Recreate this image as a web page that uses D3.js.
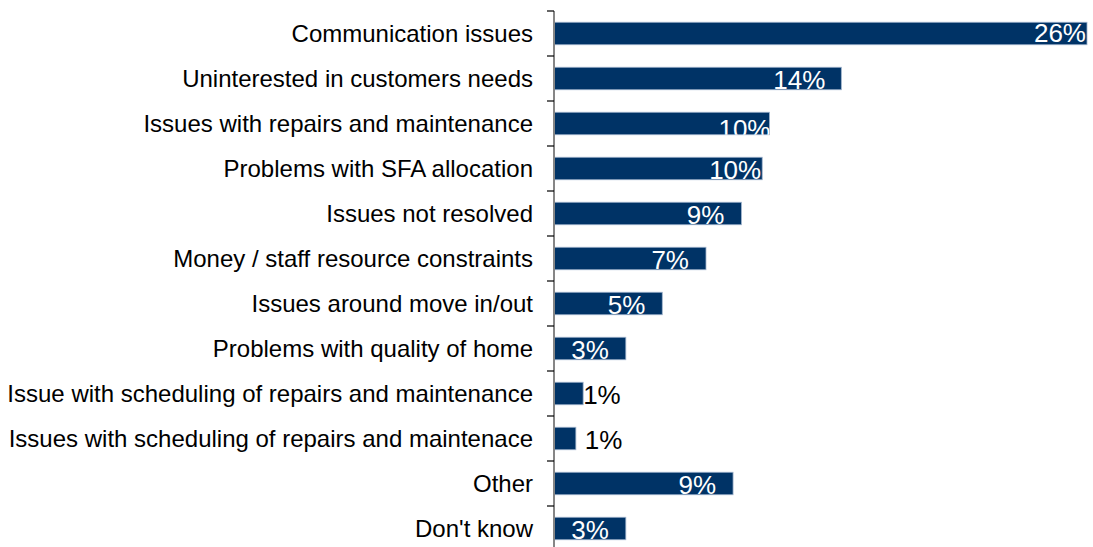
<!DOCTYPE html>
<html>
<head>
<meta charset="utf-8">
<script src="https://cdn.jsdelivr.net/npm/d3@7"></script>
<style>
  html, body { margin: 0; padding: 0; background: #fff; }
  svg { display: block; }
  text { font-family: "Liberation Sans", Arial, sans-serif; }
</style>
</head>
<body>
<svg id="chart" width="1093" height="547"></svg>
<script>
// Reasons given (share of respondents, %)
const categories = [
  "Communication issues",
  "Uninterested in customers needs",
  "Issues with repairs and maintenance",
  "Problems with SFA allocation",
  "Issues not resolved",
  "Money / staff resource constraints",
  "Issues around move in/out",
  "Problems with quality of home",
  "Issue with scheduling of repairs and maintenance",
  "Issues with scheduling of repairs and maintenace",
  "Other",
  "Don't know"
];
const values = [25.6, 13.8, 10.35, 10.0, 9.0, 7.3, 5.2, 3.45, 1.4, 1.05, 8.6, 3.45];

// Per-label placement tweaks (dx from bar end, dy from default baseline)
const labelDx = [-1, -16, 1, -1, -17, -17, -17, -17, 0, 9, -17, -17];
const labelDy = [-2, 0, 4, 0, 0, 0, 0, 0, 0, 0, 0, 0];

const svg = d3.select("#chart");
const axisX = 554;

const x = d3.scaleLinear()
  .domain([0, d3.max(values)])
  .range([axisX, 1087]);

const y = d3.scaleBand()
  .domain(categories)
  .range([11, 551])
  .paddingInner(0.5)
  .paddingOuter(0.25);

const step = y.step();

// clip paths so in-bar labels never spill outside their bar
const defs = svg.append("defs");
categories.forEach((c, i) => {
  defs.append("clipPath").attr("id", "clip" + i)
    .append("rect")
    .attr("x", x(0))
    .attr("y", y(c))
    .attr("width", x(values[i]) - x(0))
    .attr("height", y.bandwidth());
});

// bars
svg.append("g")
  .selectAll("rect")
  .data(categories)
  .join("rect")
  .attr("x", x(0))
  .attr("y", d => y(d))
  .attr("width", (d, i) => x(values[i]) - x(0))
  .attr("height", y.bandwidth())
  .attr("fill", "#003366")
  .attr("stroke", "#9fb3cc")
  .attr("stroke-width", 0.8);

// axis line and ticks at band boundaries
const axis = svg.append("g");
axis.append("line")
  .attr("x1", axisX).attr("x2", axisX)
  .attr("y1", y.range()[0]).attr("y2", y.range()[1])
  .attr("stroke", "#868686")
  .attr("stroke-width", 2);
axis.selectAll("line.tick")
  .data(d3.range(categories.length + 1))
  .join("line")
  .attr("class", "tick")
  .attr("x1", axisX - 7).attr("x2", axisX)
  .attr("y1", i => y.range()[0] + i * step)
  .attr("y2", i => y.range()[0] + i * step)
  .attr("stroke", "#000")
  .attr("stroke-width", 1.2);

// category labels
svg.append("g")
  .selectAll("text")
  .data(categories)
  .join("text")
  .attr("x", 533)
  .attr("y", d => y(d) + y.bandwidth() / 2 + 8.3)
  .attr("text-anchor", "end")
  .attr("font-size", 24)
  .attr("fill", "#000")
  .text(d => d);

// value labels: white inside the bar, black beside very short bars
svg.append("g")
  .selectAll("text")
  .data(categories)
  .join("text")
  .each(function (d, i) {
    const v = values[i];
    const inside = v >= 2;
    const t = d3.select(this)
      .attr("x", x(v) + labelDx[i])
      .attr("y", y(d) + y.bandwidth() / 2 + 10.3 + labelDy[i])
      .attr("text-anchor", inside ? "end" : "start")
      .attr("font-size", 26)
      .attr("fill", inside ? "#fff" : "#000")
      .text(Math.round(v) + "%");
    if (inside) t.attr("clip-path", "url(#clip" + i + ")");
  });
</script>
</body>
</html>
